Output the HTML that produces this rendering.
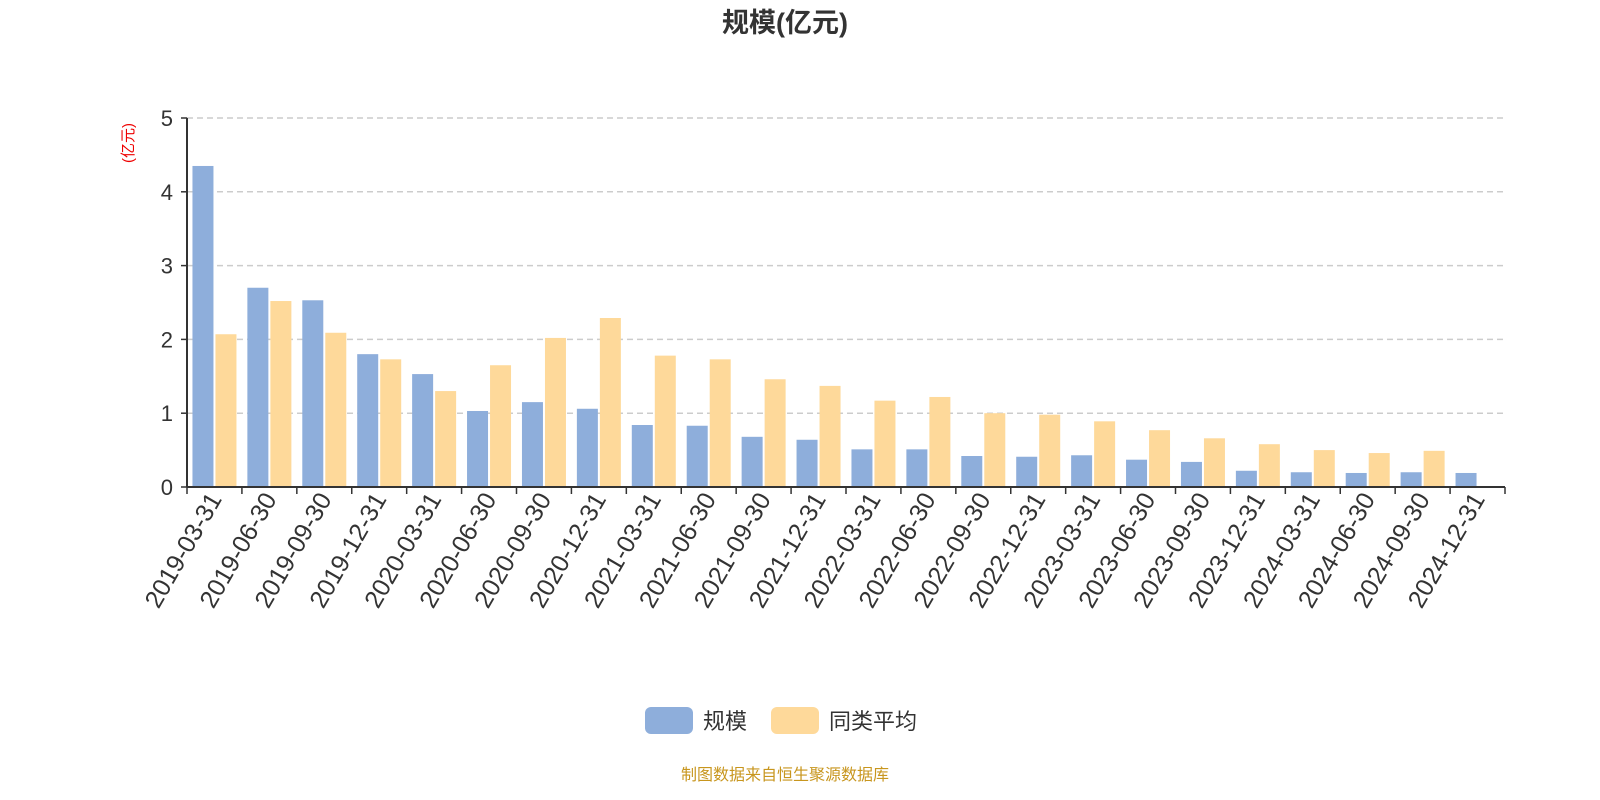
<!DOCTYPE html>
<html><head><meta charset="utf-8"><style>
html,body{margin:0;padding:0;background:#fff;}
svg{display:block;font-family:"Liberation Sans","Noto Sans CJK SC",sans-serif;}
</style></head><body>
<svg id="chart" width="1600" height="800">
<text x="785" y="32" text-anchor="middle" font-size="27" font-weight="bold" fill="#333">规模(亿元)</text>
<text transform="translate(133,143) rotate(-90)" text-anchor="middle" font-size="15" fill="#e00">(亿元)</text>
<g id="grid"></g><g id="bars"></g><g id="axes"></g>
<g>
<rect x="645" y="707" width="48" height="27" rx="6" fill="#8eaedb"/>
<text x="703" y="729" font-size="22" fill="#333">规模</text>
<rect x="771" y="707" width="48" height="27" rx="6" fill="#fed99a"/>
<text x="829" y="729" font-size="22" fill="#333">同类平均</text>
</g>
<text x="785" y="780" text-anchor="middle" font-size="16" fill="#c8961e">制图数据来自恒生聚源数据库</text>
</svg>
<script>
const categories=["2019-03-31","2019-06-30","2019-09-30","2019-12-31","2020-03-31","2020-06-30","2020-09-30","2020-12-31","2021-03-31","2021-06-30","2021-09-30","2021-12-31","2022-03-31","2022-06-30","2022-09-30","2022-12-31","2023-03-31","2023-06-30","2023-09-30","2023-12-31","2024-03-31","2024-06-30","2024-09-30","2024-12-31"];
const scaleValues=[4.35,2.70,2.53,1.80,1.53,1.03,1.15,1.06,0.84,0.83,0.68,0.64,0.51,0.51,0.42,0.41,0.43,0.37,0.34,0.22,0.20,0.19,0.20,0.19];
const avgValues=[2.07,2.52,2.09,1.73,1.30,1.65,2.02,2.29,1.78,1.73,1.46,1.37,1.17,1.22,1.00,0.98,0.89,0.77,0.66,0.58,0.50,0.46,0.49,null];
const yTicks=[0,1,2,3,4,5];
const NS="http://www.w3.org/2000/svg";
const x0=187,x1=1505,yBase=487,yTop=118,yMax=5;
const band=(x1-x0)/categories.length;
const yS=v=>yBase-(v/yMax)*(yBase-yTop);
const xS=i=>x0+i*band;
function mk(t,a,p){const e=document.createElementNS(NS,t);for(const k in a)e.setAttribute(k,a[k]);(p||document.getElementById('chart')).appendChild(e);return e;}
const grid=document.getElementById('grid'),bars=document.getElementById('bars'),axes=document.getElementById('axes');
yTicks.forEach(t=>{
  const y=yS(t);
  if(t>0){const g=mk('line',{x1:x0,x2:x1,y1:y,y2:y,stroke:'#ccc','stroke-dasharray':'6,4','stroke-width':1.5},grid);
  
  }
  const tk=mk('line',{x1:x0-6,x2:x0,y1:y,y2:y,stroke:'#333','stroke-width':1.5},axes);
  
  
  const l=mk('text',{x:x0-14,y:y+8,'text-anchor':'end','font-size':22,fill:'#333'},axes);
  l.textContent=t;
  
  
});
const bw=21,gap=2,pad=(band-2*bw-gap)/2;
categories.forEach((c,i)=>{
  const bx=xS(i)+pad;
  if(scaleValues[i]!=null){const r=mk('rect',{x:bx,y:yS(scaleValues[i]),width:bw,height:yBase-yS(scaleValues[i]),fill:'#8eaedb'},bars);
  
  }
  if(avgValues[i]!=null){const r=mk('rect',{x:bx+bw+gap,y:yS(avgValues[i]),width:bw,height:yBase-yS(avgValues[i]),fill:'#fed99a'},bars);
  
  }
  const tk=mk('line',{x1:xS(i),x2:xS(i),y1:yBase,y2:yBase+7,stroke:'#333','stroke-width':1.5},axes);
  
  
  const cx=xS(i)+band/2;
  const l=mk('text',{x:0,y:0,'text-anchor':'end','font-size':25,fill:'#333',transform:`translate(${cx+8},${yBase+12}) rotate(-60)`},axes);
  l.textContent=c;
  
  
});
const last=mk('line',{x1:x1,x2:x1,y1:yBase,y2:yBase+7,stroke:'#333','stroke-width':1.5},axes);


const xa=mk('line',{x1:x0,x2:x1,y1:yBase,y2:yBase,stroke:'#333','stroke-width':2},axes);


const ya=mk('line',{x1:x0,x2:x0,y1:yTop,y2:yBase,stroke:'#333','stroke-width':2},axes);


</script>
</body></html>
